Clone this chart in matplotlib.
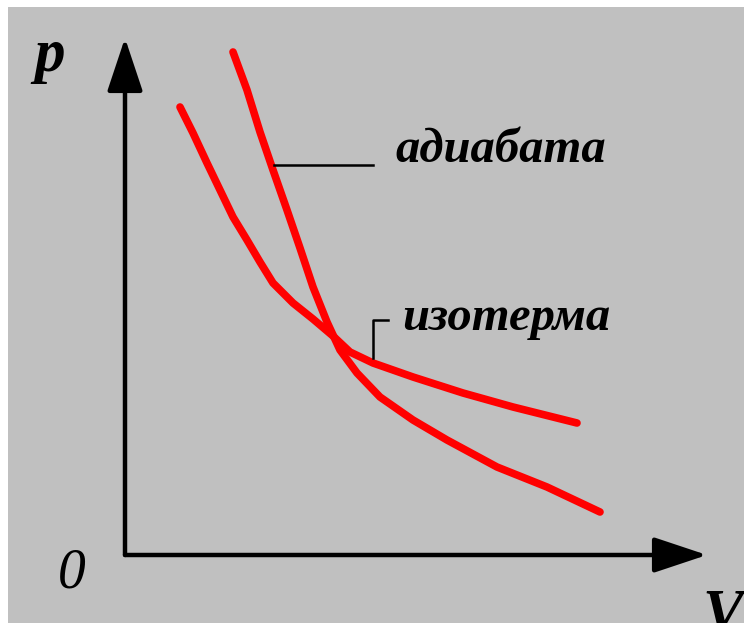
import matplotlib
matplotlib.use("Agg")
import matplotlib.pyplot as plt

# curve points (V, p in arbitrary units)
iso_v = [1.10, 1.36, 1.64, 1.90, 2.16, 2.44, 2.70, 2.96, 3.36, 3.76, 4.16, 4.50,
         4.96, 5.76, 6.76, 7.76, 9.04]
iso_p = [8.96, 8.44, 7.84, 7.30, 6.76, 6.30, 5.86, 5.44, 5.04, 4.72, 4.38, 4.06,
         3.84, 3.56, 3.24, 2.96, 2.64]

adi_v = [2.16, 2.44, 2.70, 2.96, 3.24, 3.50, 3.76, 4.04, 4.30, 4.64, 5.10, 5.76,
         6.44, 7.44, 8.44, 9.50]
adi_p = [10.06, 9.30, 8.46, 7.70, 6.90, 6.14, 5.36, 4.66, 4.10, 3.64, 3.16, 2.70,
         2.30, 1.76, 1.36, 0.86]

label_adi = "адиабата"
label_iso = "изотерма"

fig = plt.figure(figsize=(7.44, 6.23), dpi=100, facecolor="white")
ax = fig.add_axes([8 / 744, 0, 736 / 744, 616 / 623])
ax.set_xlim(-2.34, 12.38)
ax.set_ylim(-1.36, 10.96)
ax.axis("off")
ax.add_patch(plt.Rectangle((0, 0), 1, 1, transform=ax.transAxes, color="#c0c0c0", zorder=0))

# axes with arrows
arrow = dict(arrowstyle="-|>,head_length=0.33,head_width=0.11", mutation_scale=100,
             lw=3.2, color="black", shrinkA=0, shrinkB=0)
ax.annotate("", xy=(0, 10.34), xytext=(0, 0), arrowprops=arrow)
ax.annotate("", xy=(11.64, 0), xytext=(0, 0), arrowprops=arrow)

# curves
ax.plot(iso_v, iso_p, color="#ff0000", lw=5.5, solid_capstyle="round", solid_joinstyle="round")
ax.plot(adi_v, adi_p, color="#ff0000", lw=5.5, solid_capstyle="round", solid_joinstyle="round")

# leader lines
ax.plot([2.98, 4.96], [7.8, 7.8], color="black", lw=1.8)
ax.plot([5.26, 4.96, 4.96], [4.7, 4.7, 3.94], color="black", lw=1.8)

font = dict(family="Liberation Serif", style="italic", weight="bold")
ax.text(5.4, 8.1, label_adi, fontsize=35, ha="left", va="center", **font)
ax.text(5.54, 4.74, label_iso, fontsize=35, ha="left", va="center", **font)
ax.text(-1.5, 9.98, "p", fontsize=44, ha="center", va="center", **font)
ax.text(-1.06, -0.36, "0", fontsize=40, ha="center", va="center",
        family="Liberation Serif", style="italic")
ax.text(11.54, -0.66, "V", fontsize=44, ha="left", va="top", **font)

fig.savefig("out.png", dpi=100, facecolor="white")
